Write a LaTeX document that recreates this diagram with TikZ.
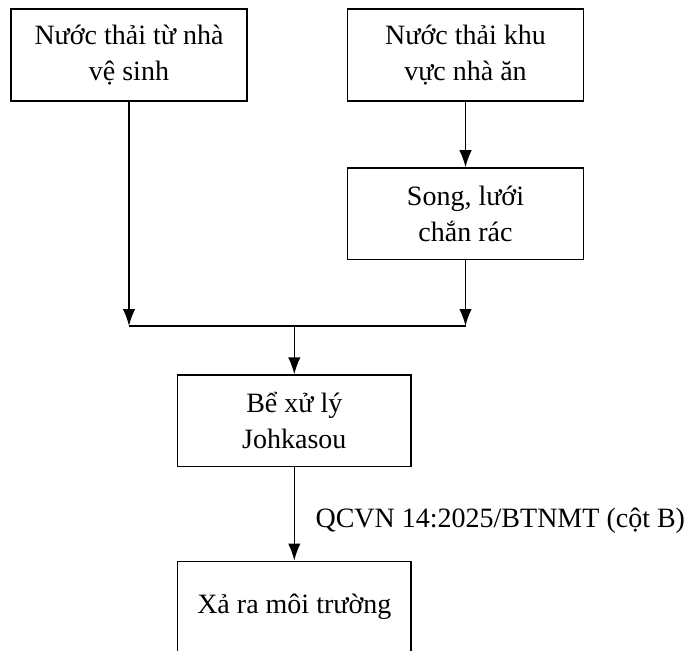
\documentclass[tikz,border=0pt]{standalone}
\usepackage{fontspec}
\setmainfont{Liberation Serif}
\usetikzlibrary{arrows.meta}
\tikzset{
  box/.style={draw=black, line width=1.5pt, rectangle, minimum width=236pt, minimum height=91.5pt, align=center, inner sep=0pt, font=\fontsize{28}{36}\selectfont},
  flow/.style={draw=black, line width=1.5pt, -{Latex[length=17pt,width=12.5pt]}},
  plain/.style={draw=black, line width=1.5pt},
  lbl/.style={font=\fontsize{28}{36}\selectfont, inner sep=0pt}
}
\begin{document}
\begin{tikzpicture}[x=1pt,y=-1pt]
\useasboundingbox (0,0) rectangle (692,650);
\begin{scope}
\clip (0,0) rectangle (692,650);
\node[box] (a) at (129,55) {Nước thải từ nhà\\vệ sinh};
\node[box] (b) at (465.5,55) {Nước thải khu\\vực nhà ăn};
\node[box] (c) at (465.5,213.7) {Song, lưới\\chắn rác};
\node[box, minimum width=233.3pt] (d) at (294.3,420.8) {Bể xử lý\\Johkasou};
\node[box, minimum width=233.3pt] (e) at (294.3,607) {Xả ra môi trường};
\coordinate (jl) at (129,326);
\coordinate (jr) at (465.5,326);
\coordinate (jm) at (294.3,326);
\draw[flow] (a.south) -- (jl);
\draw[flow] (b.south) -- (c.north);
\draw[flow] (c.south) -- (jr);
\draw[plain] (jl) -- (jr);
\draw[flow] (jm) -- (d.north);
\draw[flow] (d.south) -- (e.north);
\node[lbl, anchor=base west] (q) at (315.4,527) {QCVN 14:2025/BTNMT (cột B)};
\end{scope}
\end{tikzpicture}
\end{document}
